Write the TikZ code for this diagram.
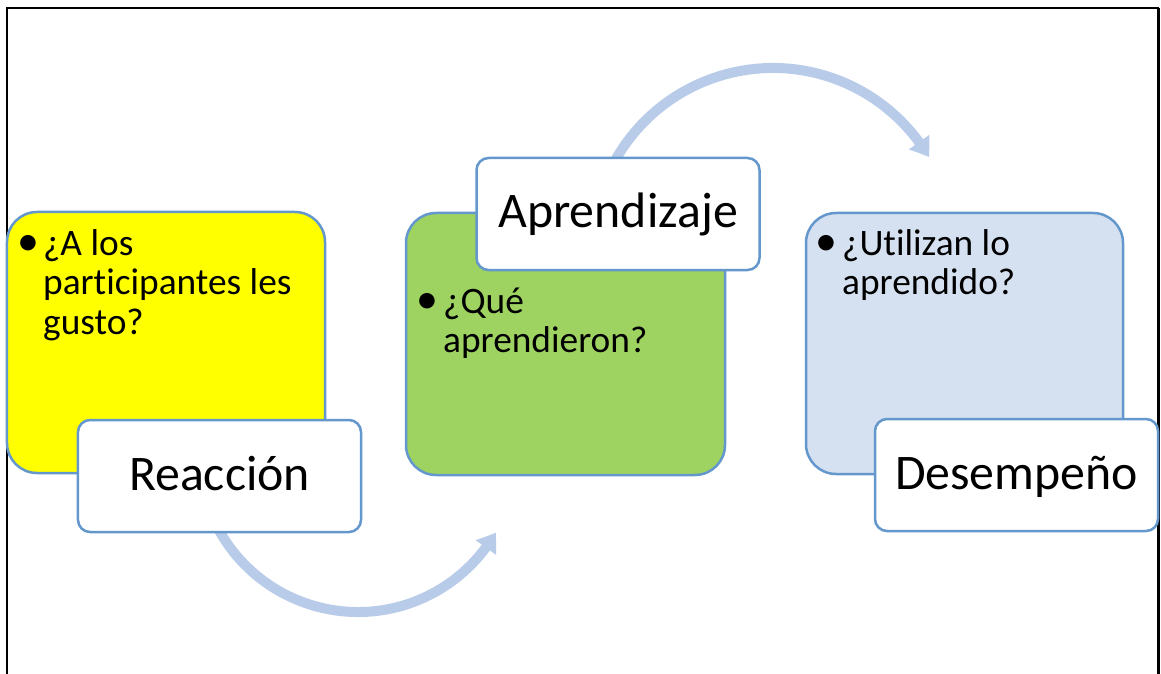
\documentclass[tikz,border=0pt]{standalone}
\usepackage{fontspec}
\setmainfont{Carlito}[Ligatures=NoCommon]
\usetikzlibrary{arrows.meta,bending}
\definecolor{bordc}{HTML}{6497CC}
\definecolor{arcc}{HTML}{B8CCE9}
\definecolor{yelc}{HTML}{FFFF00}
\definecolor{grnc}{HTML}{9ED362}
\definecolor{bluc}{HTML}{D5E1F0}
\newcommand{\bultxt}[1]{\parbox[t]{320bp}{\raggedright #1}}
\begin{document}
\begin{tikzpicture}[x=1bp,y=1bp,
  bigbox/.style={draw=bordc,line width=2.5bp,rounded corners=30bp,inner sep=0pt},
  labelbox/.style={draw=bordc,fill=white,line width=2.5bp,rounded corners=12bp,
    minimum width=283bp,minimum height=112bp,inner sep=0pt,
    text height=34bp,text depth=6bp,font=\fontsize{50}{60}\selectfont},
  bultext/.style={anchor=base west,inner sep=0pt,
    font=\fontsize{37.5}{40}\selectfont},
  bul/.style={anchor=base west,inner sep=0pt,font=\fontsize{44}{40}\selectfont},
  flow/.style={draw=arcc,line width=10bp,-{Triangle[width=24bp,length=18bp,bend]}}]
\useasboundingbox (0,0) rectangle (1161,-674);
% frame
\draw[line width=2bp] (6.5,-674) -- (6.5,-8.5) -- (1158.5,-8.5);
\draw[line width=3bp] (1158.5,-8.5) -- (1158.5,-674);
% arcs
\coordinate (c1) at (358,-453);
\coordinate (c2) at (773,-249);
\draw[flow] ([shift={(205:159)}]c1) arc[start angle=205,end angle=330,radius=159];
\draw[flow] ([shift={(155:181)}]c2) arc[start angle=155,end angle=30.5,radius=181];
% big boxes
\node[bigbox,fill=yelc,minimum width=318bp,minimum height=261bp] (yb) at (166,-342.5) {};
\node[bigbox,fill=grnc,minimum width=319bp,minimum height=262bp] (gb) at (565.5,-344) {};
\node[bigbox,fill=bluc,minimum width=317bp,minimum height=261bp] (bb) at (964.5,-343.5) {};
% texts in big boxes
\node[bul] (yd) at (17,-255) {•};
\node[bultext] (yt) at (43,-255) {\bultxt{¿A los\\participantes les\\gusto?}};
\node[bul] (gd) at (416,-313) {•};
\node[bultext] (gt) at (443,-313) {\bultxt{¿Qué\\aprendieron?}};
\node[bul] (bd) at (815,-255) {•};
\node[bultext] (bt) at (842,-255) {\bultxt{¿Utilizan lo\\aprendido?}};
% label boxes
\node[labelbox] (lr) at (219.5,-476) {Reacción};
\node[labelbox] (la) at (618,-214) {Aprendizaje};
\node[labelbox] (ld) at (1016.5,-475) {Desempeño};
\end{tikzpicture}
\end{document}
